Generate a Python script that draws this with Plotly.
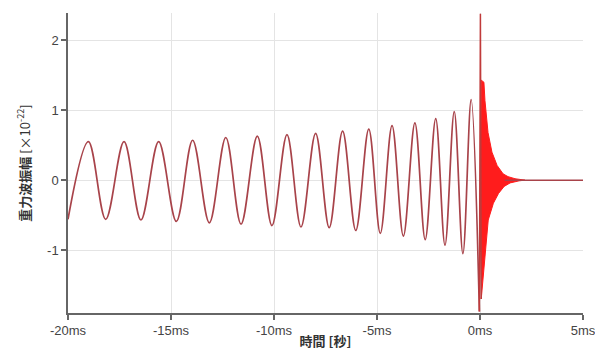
import plotly.graph_objects as go

# ---- data (time in ms, strain in 1e-22) ----
inspiral_t = [-20.0, -19.01, -18.17, -17.28, -16.46, -15.60, -14.74, -13.95, -13.14,
              -12.34, -11.60, -10.81, -10.10, -9.37, -8.69, -7.98, -7.32, -6.67,
              -6.03, -5.40, -4.84, -4.27, -3.72, -3.16, -2.66, -2.15, -1.70, -1.25,
              -0.83, -0.43, -0.03]
inspiral_h = [-0.56, 0.55, -0.56, 0.55, -0.57, 0.55, -0.59, 0.57, -0.61,
              0.61, -0.63, 0.63, -0.65, 0.65, -0.67, 0.67, -0.68, 0.70,
              -0.72, 0.73, -0.76, 0.78, -0.80, 0.82, -0.85, 0.88, -0.93, 0.98,
              -1.05, 1.15, -1.88]

merger_t = [-0.03, 0.02, 0.06]
merger_h = [-1.88, 2.38, -1.70]

ring_upper_t = [0.04, 0.06, 0.19, 0.24, 0.39, 0.58, 0.83, 1.12, 1.36, 1.70, 2.18]
ring_upper_h = [0.0, 1.43, 1.40, 1.14, 0.68, 0.40, 0.21, 0.09, 0.05, 0.02, 0.0]
ring_lower_t = [0.06, 0.13, 0.24, 0.40, 0.65, 0.90, 1.17, 1.46, 1.90, 2.18]
ring_lower_h = [-1.70, -1.57, -1.14, -0.57, -0.33, -0.19, -0.09, -0.04, -0.01, 0.0]

tail_t = [1.2, 5.0]
tail_h = [0.0, 0.0]

x_ticks = [-20, -15, -10, -5, 0, 5]
x_tick_labels = ["-20ms", "-15ms", "-10ms", "-5ms", "0ms", "5ms"]
y_ticks = [-1, 0, 1, 2]
y_tick_labels = ["-1", "0", "1", "2"]

LINE = "#a8434a"
RED = "#ff1c1c"

fig = go.Figure()

# ringdown (dense oscillation appears as a solid red band)
fig.add_trace(go.Scatter(
    x=ring_upper_t + ring_lower_t[::-1],
    y=ring_upper_h + ring_lower_h[::-1],
    mode="lines", fill="toself", fillcolor=RED,
    line=dict(color=RED, width=1), hoverinfo="skip", showlegend=False))

fig.add_trace(go.Scatter(x=tail_t, y=tail_h, mode="lines",
                         line=dict(color=LINE, width=1.5), showlegend=False))

fig.add_trace(go.Scatter(x=inspiral_t, y=inspiral_h, mode="lines",
                         line=dict(color=LINE, width=1.7, shape="spline", smoothing=1.0),
                         showlegend=False))

fig.add_trace(go.Scatter(x=merger_t, y=merger_h, mode="lines",
                         line=dict(color="#c03a3a", width=1.5), showlegend=False))

axis_font = dict(family="Liberation Sans, Arial, sans-serif", size=13, color="#444")
title_font = dict(family="Noto Sans CJK JP", size=13, color="#333")

fig.update_layout(
    width=595, height=356,
    margin=dict(l=68, r=12, t=13, b=43),
    paper_bgcolor="white", plot_bgcolor="white",
    font=dict(family="Liberation Sans, Arial, sans-serif", size=13, color="#444"),
    xaxis=dict(
        range=[-20, 5], tickvals=x_ticks, ticktext=x_tick_labels,
        showgrid=True, gridcolor="#e4e4e4", gridwidth=1, zeroline=False,
        showline=True, linecolor="#666", linewidth=1.5,
        ticks="outside", ticklen=5, tickcolor="#666", tickwidth=1.5,
        tickfont=axis_font, automargin=False, ticklabeloverflow="allow",
        title=dict(text="<b>時間 [秒]</b>", standoff=0, font=title_font),
    ),
    yaxis=dict(
        range=[-1.9, 2.39], tickvals=y_ticks, ticktext=y_tick_labels,
        showgrid=True, gridcolor="#e4e4e4", gridwidth=1, zeroline=False,
        showline=True, linecolor="#666", linewidth=1.5,
        ticks="outside", ticklen=5, tickcolor="#666", tickwidth=1.5,
        tickfont=axis_font, automargin=False,
        title=dict(text="<b>重力波振幅</b> [×10<sup>-22</sup>]", standoff=14, font=title_font),
    ),
)

# remove the default page margin so the figure sits at the window's top-left corner
fig.write_html("out.html",
               config={"displayModeBar": False},
               post_script="document.body.style.margin='0';document.body.style.overflow='hidden';")
